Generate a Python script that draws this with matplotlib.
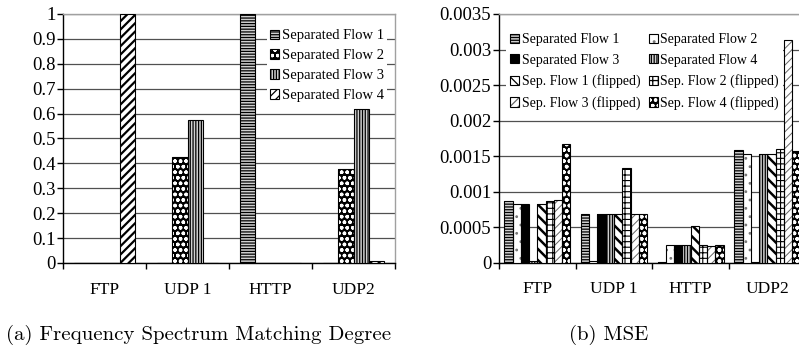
import matplotlib
matplotlib.use("Agg")
from matplotlib import pyplot as plt
from matplotlib.patches import Patch
import numpy as np

plt.rcParams["font.family"] = ["Liberation Serif", "DejaVu Serif"]
plt.rcParams["hatch.linewidth"] = 0.9

categories = ["FTP", "UDP 1", "HTTP", "UDP2"]

# (a) frequency spectrum matching degree
match_labels = ["Separated Flow 1", "Separated Flow 2",
                "Separated Flow 3", "Separated Flow 4"]
match_flow1 = [0.0, 0.0, 1.0, 0.0]
match_flow2 = [0.0, 0.427, 0.0, 0.377]
match_flow3 = [0.0, 0.575, 0.0, 0.619]
match_flow4 = [1.0, 0.0, 0.0, 0.006]
match_ticks = [0, 0.1, 0.2, 0.3, 0.4, 0.5, 0.6, 0.7, 0.8, 0.9, 1.0]
match_tick_labels = ["0", "0.1", "0.2", "0.3", "0.4", "0.5",
                     "0.6", "0.7", "0.8", "0.9", "1"]

# (b) mean squared error
mse_labels = ["Separated Flow 1", "Separated Flow 2",
              "Separated Flow 3", "Separated Flow 4",
              "Sep. Flow 1 (flipped)", "Sep. Flow 2 (flipped)",
              "Sep. Flow 3 (flipped)", "Sep. Flow 4 (flipped)"]
mse_flow1 = [0.000877, 0.00069, 0.00001, 0.001584]
mse_flow2 = [0.000826, 0.00003, 0.00025, 0.00153]
mse_flow3 = [0.000826, 0.000685, 0.00025, 0.00001]
mse_flow4 = [0.00003, 0.000685, 0.00025, 0.00153]
mse_flip1 = [0.00083, 0.000685, 0.000515, 0.00153]
mse_flip2 = [0.000873, 0.001335, 0.00025, 0.0016]
mse_flip3 = [0.00088, 0.000685, 0.000245, 0.003136]
mse_flip4 = [0.001675, 0.00069, 0.00025, 0.00158]
mse_ticks = [0, 0.0005, 0.001, 0.0015, 0.002, 0.0025, 0.003, 0.0035]
mse_tick_labels = ["0", "0.0005", "0.001", "0.0015", "0.002",
                   "0.0025", "0.003", "0.0035"]

# fill colour, hatch colour, hatch, hatch line width
match_styles = [
    ("#d0d0d0", "black", "------", 0.9),
    ("black", "white", "ooo", 1.0),
    ("#d0d0d0", "black", "||||||", 0.9),
    ("white", "black", "////", 1.6),
]
mse_styles = [
    ("#d0d0d0", "black", "------", 0.9),
    ("white", "#777777", "..", 0.8),
    ("black", "black", "", 0.9),
    ("#d0d0d0", "black", "||||||", 0.9),
    ("white", "black", "\\\\\\", 1.8),
    ("white", "black", "+++", 0.8),
    ("white", "#666666", "////", 0.7),
    ("black", "white", "ooo", 1.1),
]


def hatched_bars(ax, x, heights, width, style):
    face, hcolor, hatch, hlw = style
    bars = ax.bar(x, heights, width, color=face, edgecolor=hcolor,
                  hatch=hatch, linewidth=0, zorder=3)
    for b in bars:
        if hasattr(b, "set_hatch_linewidth"):
            b.set_hatch_linewidth(hlw)
    ax.bar(x, heights, width, fill=False, edgecolor="black",
           linewidth=0.8, zorder=4)
    fill = Patch(facecolor=face, edgecolor=hcolor, hatch=hatch, linewidth=0)
    if hasattr(fill, "set_hatch_linewidth"):
        fill.set_hatch_linewidth(hlw)
    outline = Patch(fill=False, edgecolor="black", linewidth=0.8)
    return (fill, outline)


def style_axes(ax, ticks, tick_labels, top, label_pad):
    ax.set_xlim(-0.5, len(categories) - 0.5)
    ax.set_ylim(0, top)
    ax.set_yticks(ticks)
    ax.set_yticklabels(tick_labels)
    ax.set_xticks(np.arange(len(categories) + 1) - 0.5)
    ax.set_xticklabels([])
    ax.set_xticks(np.arange(len(categories)), minor=True)
    ax.set_xticklabels(categories, minor=True)
    ax.tick_params(axis="x", which="major", direction="out", length=4,
                   width=1)
    ax.tick_params(axis="x", which="minor", length=0, pad=label_pad,
                   labelsize=12.5)
    ax.tick_params(axis="y", direction="out", length=4, width=1, pad=1.5,
                   labelsize=13.5)
    ax.yaxis.grid(True, color="#505050", linewidth=0.9)
    ax.set_axisbelow(True)
    for side in ("left", "bottom"):
        ax.spines[side].set_color("black")
        ax.spines[side].set_linewidth(1.0)
    for side in ("top", "right"):
        ax.spines[side].set_color("#a0a0a0")
        ax.spines[side].set_linewidth(1.0)


fig = plt.figure(figsize=(7.99, 3.58), dpi=100)

# left panel
ax1 = fig.add_axes([0.0789, 0.2654, 0.4155, 0.6955])
x = np.arange(len(categories))
w1 = 0.185
match_series = [match_flow1, match_flow2, match_flow3, match_flow4]
handles1 = []
for i, (vals, st) in enumerate(zip(match_series, match_styles)):
    handles1.append(hatched_bars(ax1, x + (i - 1.5) * w1, vals, w1, st))
style_axes(ax1, match_ticks, match_tick_labels, 1.0, 14)
leg1 = ax1.legend(handles1, match_labels, loc="upper left",
                  bbox_to_anchor=(0.615, 0.95), borderaxespad=0,
                  fontsize=10.5, frameon=True, edgecolor="none",
                  facecolor="white", framealpha=1, fancybox=False,
                  handlelength=0.62, handleheight=0.62, handletextpad=0.2,
                  labelspacing=0.47, borderpad=0.2)
leg1.set_zorder(6)

# right panel
ax2 = fig.add_axes([0.6245, 0.2654, 0.3839, 0.6955])
w2 = 0.1076
mse_series = [mse_flow1, mse_flow2, mse_flow3, mse_flow4,
              mse_flip1, mse_flip2, mse_flip3, mse_flip4]
handles2 = []
for i, (vals, st) in enumerate(zip(mse_series, mse_styles)):
    handles2.append(hatched_bars(ax2, x + (i - 3.5) * w2, vals, w2, st))
style_axes(ax2, mse_ticks, mse_tick_labels, 0.0035, 13)
order = [0, 2, 4, 6, 1, 3, 5, 7]
leg2 = ax2.legend([handles2[k] for k in order], [mse_labels[k] for k in order],
                  ncol=2, loc="upper left", bbox_to_anchor=(0.022, 0.94),
                  borderaxespad=0, fontsize=10, frameon=True,
                  edgecolor="none", facecolor="white", framealpha=1,
                  fancybox=False, handlelength=0.65, handleheight=0.65,
                  handletextpad=0.2, labelspacing=0.55, borderpad=0.3,
                  columnspacing=0.6)
leg2.set_zorder(6)

fig.text(0.008, 0.064, "(a) Frequency Spectrum Matching Degree",
         family="cmr10", fontsize=15, ha="left", va="center")
fig.text(0.712, 0.064, "(b) MSE", family="cmr10", fontsize=15,
         ha="left", va="center")

fig.savefig("out.png", dpi=100)
